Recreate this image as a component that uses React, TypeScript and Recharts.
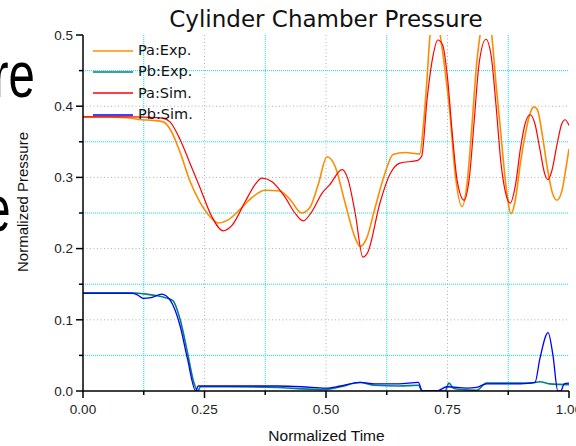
import React from 'react';
import { LineChart, Line, XAxis, YAxis, CartesianGrid, Legend } from 'recharts';

const xTicks = [0, 0.125, 0.25, 0.375, 0.5, 0.625, 0.75, 0.875, 1];
const yTicks = [0, 0.05, 0.1, 0.15, 0.2, 0.25, 0.3, 0.35, 0.4, 0.45, 0.5];
const xMajorGrid = [0.25, 0.5, 0.75];
const xMinorGrid = [0.125, 0.375, 0.625, 0.875];
const yMajorGrid = [0.1, 0.2, 0.3, 0.4];
const yMinorGrid = [0.05, 0.15, 0.25, 0.35, 0.45];

const paExp = [
  { t: 0, p: 0.385 }, { t: 0.05, p: 0.385 }, { t: 0.09, p: 0.384 }, { t: 0.12, p: 0.381 },
  { t: 0.145, p: 0.38 }, { t: 0.165, p: 0.378 }, { t: 0.179, p: 0.368 }, { t: 0.2, p: 0.335 },
  { t: 0.22, p: 0.295 }, { t: 0.24, p: 0.266 }, { t: 0.261, p: 0.245 }, { t: 0.278, p: 0.236 },
  { t: 0.298, p: 0.24 }, { t: 0.323, p: 0.255 }, { t: 0.348, p: 0.272 }, { t: 0.375, p: 0.282 },
  { t: 0.405, p: 0.281 }, { t: 0.426, p: 0.269 }, { t: 0.45, p: 0.25 }, { t: 0.467, p: 0.258 },
  { t: 0.484, p: 0.29 }, { t: 0.502, p: 0.329 }, { t: 0.519, p: 0.315 }, { t: 0.539, p: 0.265 },
  { t: 0.56, p: 0.215 }, { t: 0.57, p: 0.203 }, { t: 0.584, p: 0.215 }, { t: 0.6, p: 0.255 },
  { t: 0.621, p: 0.305 }, { t: 0.638, p: 0.332 }, { t: 0.663, p: 0.335 }, { t: 0.693, p: 0.333 },
  { t: 0.7, p: 0.37 }, { t: 0.707, p: 0.43 }, { t: 0.714, p: 0.5 }, { t: 0.724, p: 0.545 },
  { t: 0.735, p: 0.5 }, { t: 0.745, p: 0.45 }, { t: 0.755, p: 0.39 }, { t: 0.765, p: 0.31 },
  { t: 0.78, p: 0.259 }, { t: 0.79, p: 0.29 }, { t: 0.8, p: 0.37 }, { t: 0.81, p: 0.46 },
  { t: 0.817, p: 0.5 }, { t: 0.829, p: 0.545 }, { t: 0.841, p: 0.5 }, { t: 0.85, p: 0.43 },
  { t: 0.86, p: 0.36 }, { t: 0.87, p: 0.29 }, { t: 0.881, p: 0.249 }, { t: 0.89, p: 0.27 },
  { t: 0.9, p: 0.32 }, { t: 0.91, p: 0.36 }, { t: 0.92, p: 0.39 }, { t: 0.928, p: 0.399 },
  { t: 0.935, p: 0.395 }, { t: 0.945, p: 0.36 }, { t: 0.955, p: 0.315 }, { t: 0.965, p: 0.28 },
  { t: 0.975, p: 0.268 }, { t: 0.985, p: 0.28 }, { t: 0.993, p: 0.31 }, { t: 1, p: 0.34 },
];

const pbExp = [
  { t: 0, p: 0.138 }, { t: 0.09, p: 0.138 }, { t: 0.13, p: 0.136 }, { t: 0.15, p: 0.134 },
  { t: 0.17, p: 0.131 }, { t: 0.185, p: 0.127 }, { t: 0.2, p: 0.1 }, { t: 0.215, p: 0.054 },
  { t: 0.228, p: 0.012 }, { t: 0.236, p: 0.0 }, { t: 0.242, p: 0.006 }, { t: 0.3, p: 0.006 },
  { t: 0.4, p: 0.005 }, { t: 0.45, p: 0.003 }, { t: 0.5, p: 0.002 }, { t: 0.53, p: 0.006 },
  { t: 0.57, p: 0.012 }, { t: 0.6, p: 0.008 }, { t: 0.65, p: 0.007 }, { t: 0.69, p: 0.008 },
  { t: 0.698, p: 0.0 }, { t: 0.745, p: 0.0 }, { t: 0.753, p: 0.011 }, { t: 0.762, p: 0.004 },
  { t: 0.78, p: 0.002 }, { t: 0.81, p: 0.001 }, { t: 0.83, p: 0.011 }, { t: 0.87, p: 0.011 },
  { t: 0.92, p: 0.011 }, { t: 0.94, p: 0.013 }, { t: 0.96, p: 0.01 }, { t: 1, p: 0.009 },
];

const paSim = [
  { t: 0, p: 0.385 }, { t: 0.1, p: 0.385 }, { t: 0.15, p: 0.384 }, { t: 0.165, p: 0.383 },
  { t: 0.179, p: 0.378 }, { t: 0.2, p: 0.353 }, { t: 0.22, p: 0.32 }, { t: 0.24, p: 0.287 },
  { t: 0.265, p: 0.245 }, { t: 0.288, p: 0.225 }, { t: 0.307, p: 0.233 }, { t: 0.333, p: 0.265 },
  { t: 0.354, p: 0.29 }, { t: 0.368, p: 0.299 }, { t: 0.389, p: 0.294 }, { t: 0.416, p: 0.272 },
  { t: 0.436, p: 0.25 }, { t: 0.453, p: 0.239 }, { t: 0.471, p: 0.252 }, { t: 0.492, p: 0.278 },
  { t: 0.508, p: 0.29 }, { t: 0.533, p: 0.311 }, { t: 0.545, p: 0.298 }, { t: 0.56, p: 0.25 },
  { t: 0.576, p: 0.188 }, { t: 0.586, p: 0.195 }, { t: 0.611, p: 0.264 }, { t: 0.632, p: 0.305 },
  { t: 0.652, p: 0.32 }, { t: 0.689, p: 0.324 }, { t: 0.697, p: 0.33 }, { t: 0.708, p: 0.41 },
  { t: 0.72, p: 0.47 }, { t: 0.73, p: 0.493 }, { t: 0.74, p: 0.486 }, { t: 0.75, p: 0.44 },
  { t: 0.76, p: 0.36 }, { t: 0.77, p: 0.295 }, { t: 0.784, p: 0.268 }, { t: 0.795, p: 0.3 },
  { t: 0.805, p: 0.38 }, { t: 0.815, p: 0.46 }, { t: 0.829, p: 0.494 }, { t: 0.84, p: 0.47 },
  { t: 0.85, p: 0.4 }, { t: 0.86, p: 0.32 }, { t: 0.87, p: 0.277 }, { t: 0.879, p: 0.264 },
  { t: 0.89, p: 0.29 }, { t: 0.9, p: 0.34 }, { t: 0.91, p: 0.376 }, { t: 0.92, p: 0.388 },
  { t: 0.93, p: 0.375 }, { t: 0.94, p: 0.34 }, { t: 0.95, p: 0.305 }, { t: 0.957, p: 0.297 },
  { t: 0.965, p: 0.31 }, { t: 0.975, p: 0.345 }, { t: 0.985, p: 0.375 }, { t: 0.992, p: 0.381 },
  { t: 1, p: 0.373 },
];

const pbSim = [
  { t: 0, p: 0.137 }, { t: 0.1, p: 0.137 }, { t: 0.112, p: 0.135 }, { t: 0.124, p: 0.13 },
  { t: 0.14, p: 0.131 }, { t: 0.162, p: 0.136 }, { t: 0.18, p: 0.127 }, { t: 0.2, p: 0.091 },
  { t: 0.215, p: 0.045 }, { t: 0.232, p: 0.0 }, { t: 0.237, p: 0.007 }, { t: 0.3, p: 0.007 },
  { t: 0.4, p: 0.007 }, { t: 0.45, p: 0.006 }, { t: 0.5, p: 0.004 }, { t: 0.53, p: 0.007 },
  { t: 0.57, p: 0.012 }, { t: 0.6, p: 0.01 }, { t: 0.65, p: 0.01 }, { t: 0.69, p: 0.012 },
  { t: 0.698, p: 0.0 }, { t: 0.728, p: 0.0 }, { t: 0.749, p: 0.006 }, { t: 0.79, p: 0.004 },
  { t: 0.81, p: 0.005 }, { t: 0.83, p: 0.01 }, { t: 0.9, p: 0.01 }, { t: 0.93, p: 0.012 },
  { t: 0.94, p: 0.045 }, { t: 0.957, p: 0.082 }, { t: 0.967, p: 0.05 }, { t: 0.977, p: 0.0 },
  { t: 0.983, p: 0.0 }, { t: 0.99, p: 0.01 }, { t: 1, p: 0.011 },
];

const seriesNames = ['Pa:Exp.', 'Pb:Exp.', 'Pa:Sim.', 'Pb:Sim.'];
const seriesColors = ['#FF8C00', '#008080', '#FF0000', '#0000FF'];

const tickFont = '"Liberation Sans", Arial, sans-serif';

function XTick(props: any) {
  const { x, y, payload } = props;
  const v = payload.value as number;
  const major = Math.abs(v * 4 - Math.round(v * 4)) < 1e-6;
  return (
    <g>
      <line x1={x} x2={x} y1={y} y2={y + (major ? 7 : 4)} stroke="#000" strokeWidth={1.5} />
      {major && (
        <text x={x} y={y + 23} textAnchor="middle" fontFamily={tickFont} fontSize={13.5} fill="#222">
          {v.toFixed(2)}
        </text>
      )}
    </g>
  );
}

function YTick(props: any) {
  const { x, y, payload } = props;
  const v = payload.value as number;
  const major = Math.abs(v * 10 - Math.round(v * 10)) < 1e-6;
  return (
    <g>
      <line x1={x} x2={x - (major ? 7 : 4)} y1={y} y2={y} stroke="#000" strokeWidth={1.5} />
      {major && (
        <text x={x - 10} y={y + 4.7} textAnchor="end" fontFamily={tickFont} fontSize={13.5} fill="#222">
          {v.toFixed(1)}
        </text>
      )}
    </g>
  );
}

function LegendContent() {
  return (
    <div style={{ fontFamily: '"DejaVu Sans", Verdana, sans-serif', fontSize: 14.5, color: '#111' }}>
      {seriesNames.map((n, i) => (
        <div key={n} style={{ display: 'flex', alignItems: 'center', height: 21.3 }}>
          <svg width={40} height={4} style={{ marginRight: 5, display: 'block' }}>
            <line x1={0} x2={40} y1={2} y2={2} stroke={seriesColors[i]} strokeWidth={1.6} />
          </svg>
          <span style={{ lineHeight: '21px' }}>{n}</span>
        </div>
      ))}
    </div>
  );
}

export default function App() {
  const lines = [paExp, pbExp, paSim, pbSim];
  const widths = [1.6, 1.6, 1.2, 1.3];
  const bigText = {
    position: 'absolute' as const, fontFamily: '"Liberation Sans", Arial, sans-serif',
    fontSize: 64, lineHeight: '80px', color: '#000', transform: 'scaleX(0.74)', transformOrigin: 'right center', whiteSpace: 'nowrap' as const,
  };
  return (
    <div style={{ position: 'absolute', left: 0, top: 0, width: 576, height: 446, background: '#fff', overflow: 'hidden' }}>
      <div style={{ ...bigText, right: 576 - 35, top: 35 }}>re</div>
      <div style={{ ...bigText, right: 576 - 11, top: 169 }}>e</div>
      <div
        style={{
          position: 'absolute', left: 0, width: 652, top: 5, textAlign: 'center',
          fontFamily: '"DejaVu Sans", Verdana, sans-serif', fontSize: 23, lineHeight: '28px', color: '#111', whiteSpace: 'nowrap',
        }}
      >
        Cylinder Chamber Pressure
      </div>
      <LineChart width={576} height={446} margin={{ top: 35, right: 7, bottom: 25, left: 23 }} style={{ position: 'absolute', left: 0, top: 0 }}>
        <CartesianGrid horizontal vertical horizontalValues={yMinorGrid} verticalValues={xMinorGrid} stroke="#00E5FF" strokeDasharray="1 1" strokeWidth={1} />
        <CartesianGrid horizontal vertical horizontalValues={yMajorGrid} verticalValues={xMajorGrid} stroke="#B0B0B0" strokeDasharray="1 2.5" strokeWidth={1} />
        <XAxis
          dataKey="t" type="number" domain={[0, 1]} ticks={xTicks} interval={0} height={30}
          tickSize={0} tickMargin={0} tick={<XTick />} axisLine={{ stroke: '#000', strokeWidth: 1.5 }}
          allowDataOverflow
        />
        <YAxis
          type="number" domain={[0, 0.5]} ticks={yTicks} interval={0} width={60}
          tickSize={0} tickMargin={0} tick={<YTick />} axisLine={{ stroke: '#000', strokeWidth: 1.5 }}
          allowDataOverflow
        />
        <Legend
          verticalAlign="middle" align="center" layout="vertical" content={<LegendContent />}
          wrapperStyle={{ position: 'absolute', left: 93, top: 40, width: 'auto', height: 'auto' }}
        />
        {lines.map((d, i) => (
          <Line
            key={seriesNames[i]} data={d} dataKey="p" name={seriesNames[i]} type="monotone"
            stroke={seriesColors[i]} strokeWidth={widths[i]} dot={false} activeDot={false} isAnimationActive={false}
          />
        ))}
      </LineChart>
      <div
        style={{
          position: 'absolute', left: 0, width: 653, top: 426, textAlign: 'center',
          fontFamily: '"Liberation Sans", Arial, sans-serif', fontSize: 15.5, lineHeight: '20px', color: '#111', whiteSpace: 'nowrap',
        }}
      >
        Normalized Time
      </div>
      <div
        style={{
          position: 'absolute', left: 22.5, top: 202, transform: 'translate(-50%, -50%) rotate(-90deg)',
          fontFamily: '"Liberation Sans", Arial, sans-serif', fontSize: 15, lineHeight: '18px', color: '#111', whiteSpace: 'nowrap',
        }}
      >
        Normalized Pressure
      </div>
    </div>
  );
}
